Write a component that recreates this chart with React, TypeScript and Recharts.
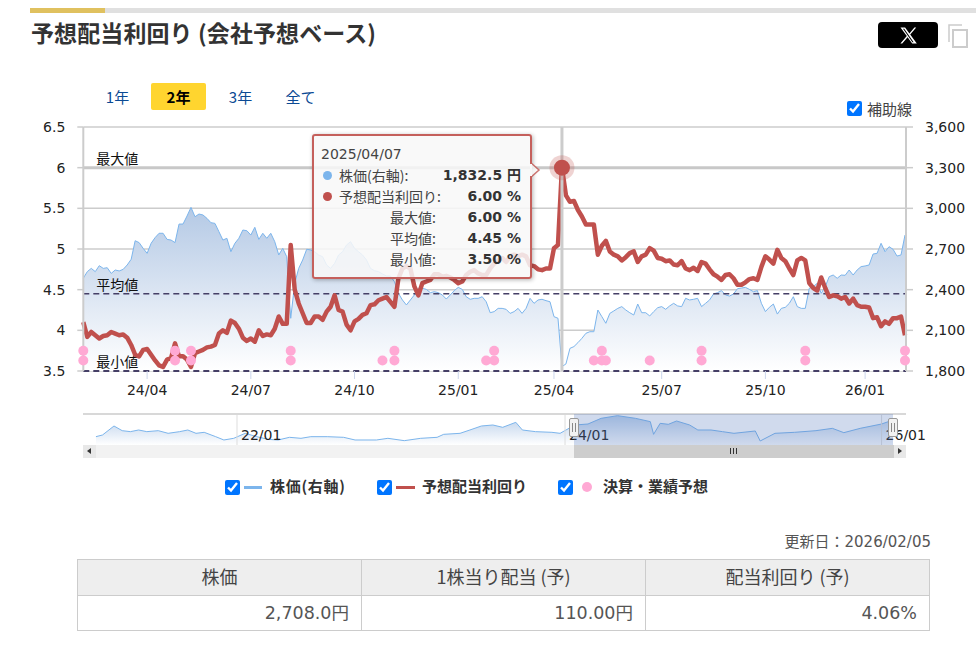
import {
  Area,
  CartesianGrid,
  ComposedChart,
  Line,
  ReferenceLine,
  Tooltip,
  XAxis,
  YAxis,
} from "recharts";

const dates = [
  "2024/02/05","2024/02/08","2024/02/12","2024/02/15","2024/02/19","2024/02/22","2024/02/26","2024/02/29","2024/03/04","2024/03/07",
  "2024/03/11","2024/03/14","2024/03/18","2024/03/21","2024/03/25","2024/03/28","2024/04/01","2024/04/04","2024/04/08","2024/04/11",
  "2024/04/15","2024/04/18","2024/04/22","2024/04/25","2024/04/29","2024/05/02","2024/05/06","2024/05/09","2024/05/13","2024/05/16",
  "2024/05/20","2024/05/23","2024/05/27","2024/05/30","2024/06/03","2024/06/06","2024/06/10","2024/06/13","2024/06/17","2024/06/20",
  "2024/06/24","2024/06/27","2024/07/01","2024/07/04","2024/07/08","2024/07/11","2024/07/15","2024/07/18","2024/07/22","2024/07/25",
  "2024/07/29","2024/08/01","2024/08/05","2024/08/08","2024/08/12","2024/08/15","2024/08/19","2024/08/22","2024/08/26","2024/08/29",
  "2024/09/02","2024/09/05","2024/09/09","2024/09/12","2024/09/16","2024/09/19","2024/09/23","2024/09/26","2024/10/01","2024/10/03",
  "2024/10/07","2024/10/10","2024/10/14","2024/10/17","2024/10/21","2024/10/24","2024/10/28","2024/10/31","2024/11/04","2024/11/07",
  "2024/11/11","2024/11/14","2024/11/18","2024/11/21","2024/11/25","2024/11/28","2024/12/02","2024/12/05","2024/12/09","2024/12/12",
  "2024/12/16","2024/12/19","2024/12/23","2024/12/26","2025/01/06","2025/01/09","2025/01/13","2025/01/16","2025/01/20","2025/01/23",
  "2025/01/27","2025/01/30","2025/02/03","2025/02/06","2025/02/10","2025/02/13","2025/02/17","2025/02/20","2025/02/24","2025/02/27",
  "2025/03/03","2025/03/06","2025/03/10","2025/03/13","2025/03/17","2025/03/20","2025/03/24","2025/03/27","2025/04/01","2025/04/03",
  "2025/04/07","2025/04/10","2025/04/14","2025/04/17","2025/04/21","2025/04/24","2025/04/28","2025/05/01","2025/05/05","2025/05/08",
  "2025/05/12","2025/05/15","2025/05/19","2025/05/22","2025/05/26","2025/05/29","2025/06/02","2025/06/05","2025/06/09","2025/06/12",
  "2025/06/16","2025/06/19","2025/06/23","2025/06/26","2025/06/30","2025/07/01","2025/07/03","2025/07/07","2025/07/10","2025/07/14",
  "2025/07/17","2025/07/21","2025/07/24","2025/07/28","2025/07/31","2025/08/04","2025/08/07","2025/08/11","2025/08/14","2025/08/18",
  "2025/08/21","2025/08/25","2025/08/28","2025/09/01","2025/09/04","2025/09/08","2025/09/11","2025/09/15","2025/09/18","2025/09/22",
  "2025/09/25","2025/10/01","2025/10/02","2025/10/06","2025/10/09","2025/10/13","2025/10/16","2025/10/20","2025/10/23","2025/10/27",
  "2025/10/30","2025/11/03","2025/11/06","2025/11/10","2025/11/13","2025/11/17","2025/11/20","2025/11/24","2025/11/27","2025/12/01",
  "2025/12/04","2025/12/08","2025/12/11","2025/12/15","2025/12/18","2025/12/22","2026/01/05","2026/01/08","2026/01/12","2026/01/15",
  "2026/01/19","2026/01/22","2026/01/26","2026/01/29","2026/02/02","2026/02/04","2026/02/05",
];

const priceValues = [
  2484,2533,2557,2533,2577,2557,2562,2520,2545,2538,
  2550,2582,2624,2761,2747,2705,2668,2742,2784,2816,
  2816,2771,2766,2747,2884,2884,2943,3007,2938,2958,
  2951,2926,2894,2889,2828,2766,2779,2680,2742,2779,
  2840,2835,2803,2860,2771,2816,2779,2816,2754,2656,
  2705,2643,2189,2447,2557,2619,2698,2693,2680,2656,
  2643,2582,2557,2594,2656,2680,2730,2754,2705,2680,
  2656,2619,2557,2540,2533,2516,2501,2501,2459,2373,
  2324,2287,2324,2361,2410,2410,2402,2378,2385,2378,
  2361,2331,2361,2393,2417,2402,2348,2329,2336,2336,
  2348,2311,2230,2238,2262,2262,2255,2225,2238,2262,
  2225,2262,2336,2299,2324,2329,2319,2311,2201,2189,
  1832.5,1852,1967,1980,2009,2041,2078,2090,2090,2250,
  2201,2152,2225,2243,2262,2275,2250,2230,2213,2294,
  2230,2230,2206,2238,2267,2275,2255,2280,2299,2280,
  2275,2336,2324,2329,2336,2275,2299,2324,2368,2378,
  2393,2361,2353,2368,2407,2412,2417,2402,2385,2393,
  2299,2238,2270,2294,2220,2262,2270,2299,2348,2275,
  2262,2262,2410,2422,2447,2373,2422,2496,2508,2484,
  2508,2506,2545,2508,2545,2570,2575,2582,2663,2668,
  2742,2680,2717,2698,2648,2656,2803,
];

const yieldValues = [
  4.10,3.92,3.98,3.94,3.90,3.93,3.94,3.98,3.96,3.94,
  3.95,3.91,3.82,3.70,3.68,3.76,3.77,3.70,3.63,3.57,
  3.55,3.64,3.66,3.84,3.68,3.68,3.64,3.55,3.72,3.74,
  3.76,3.79,3.80,3.82,3.96,4.00,3.97,4.12,4.09,4.02,
  3.91,3.87,3.90,3.86,4.00,3.93,3.95,3.94,4.02,4.17,
  4.08,4.08,5.05,4.50,4.33,4.21,4.09,4.09,4.17,4.17,
  4.13,4.23,4.29,4.43,4.25,4.23,4.07,4.00,4.11,4.14,
  4.19,4.21,4.31,4.32,4.37,4.39,4.41,4.35,4.29,4.64,
  4.76,4.79,4.76,4.54,4.43,4.58,4.60,4.62,4.69,4.69,
  4.66,4.67,4.65,4.62,4.58,4.60,4.68,4.72,4.74,4.70,
  4.68,4.68,4.76,4.82,4.86,4.89,4.84,4.91,4.93,4.91,
  4.93,4.91,4.80,4.79,4.75,4.74,4.76,4.76,5.01,5.05,
  6.00,5.66,5.58,5.59,5.48,5.40,5.30,5.30,5.30,4.93,
  5.04,5.10,4.97,4.93,4.91,4.86,4.90,4.95,4.97,4.84,
  4.91,4.93,5.01,4.98,4.89,4.88,4.85,4.86,4.81,4.80,
  4.85,4.76,4.74,4.77,4.73,4.84,4.82,4.75,4.69,4.66,
  4.62,4.68,4.69,4.64,4.56,4.56,4.59,4.63,4.64,4.62,
  4.78,4.91,4.87,4.82,4.99,4.89,4.85,4.76,4.68,4.86,
  4.89,4.86,4.58,4.52,4.49,4.65,4.52,4.41,4.43,4.42,
  4.39,4.41,4.33,4.39,4.31,4.29,4.29,4.28,4.15,4.16,
  4.05,4.11,4.08,4.15,4.15,4.17,3.94,
];

// 決算・業績予想 markers, two rows
const upperEventDates = [
  "2024/02/05","2024/04/25","2024/05/09","2024/08/05","2024/11/04","2025/02/06",
  "2025/05/12","2025/08/04","2025/11/03","2026/02/05",
];
const lowerEventDates = [
  ...upperEventDates,
  "2024/10/24","2025/01/30","2025/05/05","2025/05/15","2025/06/23",
];
const UPPER_EVENT = 3.75;
const LOWER_EVENT = 3.63;

const xTickDates = [
  "2024/04/01","2024/07/01","2024/10/01","2025/01/06","2025/04/01","2025/07/01","2025/10/01","2026/01/05",
];
const yieldTicks = [3.5, 4, 4.5, 5, 5.5, 6, 6.5];
const priceTicks = [1800, 2100, 2400, 2700, 3000, 3300, 3600];

const MAX_YIELD = 6;
const AVG_YIELD = 4.45;
const MIN_YIELD = 3.5;
const ACTIVE_INDEX = 120;

// overview strip under the chart: whole history
const overviewYears = [
  2021.14,2021.18,2021.25,2021.30,2021.35,2021.40,2021.45,2021.52,2021.58,2021.65,
  2021.70,2021.75,2021.80,2021.87,2021.92,2021.98,2022.05,2022.12,2022.19,2022.25,
  2022.32,2022.39,2022.45,2022.55,2022.65,2022.72,2022.85,2022.92,2023.02,2023.12,
  2023.22,2023.26,2023.36,2023.42,2023.49,2023.56,2023.62,2023.70,2023.74,2023.82,
  2023.92,2023.97,2024.06,2024.14,2024.22,2024.32,2024.43,2024.52,2024.54,2024.58,
  2024.63,2024.68,2024.76,2024.81,2024.89,2024.96,2025.03,2025.16,2025.19,2025.28,
  2025.40,2025.53,2025.63,2025.70,2025.80,2025.93,2026.00,
];
const overviewPrices = [
  2033,2110,2528,2311,2265,2342,2265,2311,2188,2265,
  2342,2188,2234,2033,1878,1956,2188,2033,1909,1878,
  2002,1956,2033,2033,2002,1878,1878,1956,1847,1956,
  2002,2141,2188,2342,2528,2574,2466,2698,2342,2265,
  2234,2188,2574,2620,2883,3007,2883,2729,2141,2651,
  2605,2760,2574,2342,2342,2265,2188,2296,1832,2188,
  2234,2311,2419,2218,2419,2620,2806,
];
const overviewTicks = [2022, 2024, 2025.93];
const overviewTickLabels = ["22/01", "24/01", "26/01"];

const summaryHeads = ["株価", "1株当り配当 (予)", "配当利回り (予)"];
const summaryCells = ["2,708.0円", "110.00円", "4.06%"];

const rangeButtons = ["1年", "2年", "3年", "全て"];

const chartRows = dates.map((date, i) => ({
  date,
  price: priceValues[i],
  yieldPct: yieldValues[i],
  upperEvent: upperEventDates.includes(date) ? UPPER_EVENT : null,
  lowerEvent: lowerEventDates.includes(date) ? LOWER_EVENT : null,
}));
const overviewRows = overviewYears.map((year, i) => ({ year, price: overviewPrices[i] }));

const BLUE = "#7cb5ec";
const RED = "#c0504d";
const PINK = "#ffa9d4";
const SANS = '"DejaVu Sans", "Noto Sans CJK JP", sans-serif';
const CJK = '"Noto Sans CJK JP", sans-serif';

const lineLabel = (text: string) => (props: any) => (
  <text x={props.viewBox.x + 13} y={props.viewBox.y - 4} fontSize={14} fontFamily={CJK} fill="#111">
    {text}
  </text>
);

const eventDot = (props: any) => {
  if (props.value == null) return <g key={props.index} />;
  return <circle key={props.index} cx={props.cx} cy={props.cy} r={5} fill={PINK} />;
};

const activeYieldDot = (props: any) => (
  <g>
    <circle cx={props.cx} cy={props.cy} r={12.5} fill={RED} opacity={0.25} />
    <circle cx={props.cx} cy={props.cy} r={8} fill={RED} />
  </g>
);

const TipRow = ({ y, label, value, dot }: { y: number; label: string; value: string; dot?: string }) => (
  <>
    {dot && (
      <span
        style={{ position: "absolute", left: 9, top: y - 4, width: 9, height: 9, borderRadius: "50%", background: dot }}
      />
    )}
    <span
      style={{
        position: "absolute",
        top: y - 11,
        fontFamily: CJK,
        fontSize: 14,
        lineHeight: "22px",
        color: "#444",
        whiteSpace: "nowrap",
        ...(dot ? { left: 25 } : { right: 94 }),
      }}
    >
      {label}
    </span>
    <span
      style={{
        position: "absolute",
        right: 9,
        top: y - 11,
        fontFamily: SANS,
        fontWeight: 700,
        fontSize: 14,
        lineHeight: "22px",
        color: "#333",
        whiteSpace: "nowrap",
      }}
    >
      {value}
    </span>
  </>
);

const ChartTip = ({ label, payload }: any) => {
  if (!payload || payload.length === 0) return null;
  const price = payload.find((p: any) => p.dataKey === "price")?.value ?? 0;
  const pct = payload.find((p: any) => p.dataKey === "yieldPct")?.value ?? 0;
  const priceText = price.toLocaleString("en-US", { minimumFractionDigits: 1 });
  return (
    <div
      style={{
        position: "relative",
        width: 220,
        height: 145,
        boxSizing: "border-box",
        background: "rgba(248,248,248,0.86)",
        border: "2px solid #c5605c",
        borderRadius: 3,
        boxShadow: "1px 1px 4px rgba(0,0,0,0.3)",
      }}
    >
      <span
        style={{ position: "absolute", left: 7, top: 7, fontFamily: SANS, fontSize: 14, lineHeight: "22px", color: "#444" }}
      >
        {label}
      </span>
      <TipRow y={39} label="株価(右軸):" value={`${priceText} 円`} dot={BLUE} />
      <TipRow y={60} label="予想配当利回り:" value={`${pct.toFixed(2)} %`} dot={RED} />
      <TipRow y={81} label="最大値:" value={`${MAX_YIELD.toFixed(2)} %`} />
      <TipRow y={102} label="平均値:" value={`${AVG_YIELD.toFixed(2)} %`} />
      <TipRow y={123} label="最小値:" value={`${MIN_YIELD.toFixed(2)} %`} />
      <svg style={{ position: "absolute", left: 216, top: 25 }} width={12} height={18}>
        <path d="M0 1 L9 9 L0 17 Z" fill="#f8f8f8" stroke="#c5605c" strokeWidth={1.5} opacity={0.85} />
        <rect x={0} y={3} width={2} height={12} fill="#f8f8f8" />
      </svg>
    </div>
  );
};

const OverviewTick = ({ x, payload, index }: any) => (
  <g>
    <line x1={x} x2={x} y1={0} y2={31} stroke="#ddd" />
    <text x={x + 4} y={26} fontSize={14} fontFamily={SANS} fill="#222">
      {overviewTickLabels[index ?? overviewTicks.indexOf(payload.value)]}
    </text>
  </g>
);

const Box = ({ style, children }: { style: React.CSSProperties; children?: React.ReactNode }) => (
  <div style={{ position: "absolute", ...style }}>{children}</div>
);

const Check = ({ x, y }: { x: number; y: number }) => (
  <input
    type="checkbox"
    defaultChecked
    style={{ position: "absolute", left: x, top: y, width: 15, height: 15, margin: 0 }}
  />
);

const LegendText = ({ x, spacing, children }: { x: number; spacing?: number; children: React.ReactNode }) => (
  <Box
    style={{
      left: x,
      top: 475,
      fontFamily: CJK,
      fontWeight: 700,
      fontSize: 15,
      letterSpacing: spacing ?? 0,
      lineHeight: "22px",
      color: "#333",
      whiteSpace: "nowrap",
    }}
  >
    {children}
  </Box>
);

const cellBase: React.CSSProperties = {
  border: "1px solid #ccc",
  color: "#555",
  padding: 0,
};

export default function App() {
  return (
    <div style={{ position: "absolute", left: 0, top: 0, width: 976, height: 664, overflow: "hidden", background: "#fff" }}>
      {/* header */}
      <Box style={{ left: 30, top: 8, width: 946, height: 5, background: "#e0e0e0" }} />
      <Box style={{ left: 30, top: 8, width: 75, height: 5, background: "#e0c15f" }} />
      <Box
        style={{
          left: 31,
          top: 15,
          fontFamily: CJK,
          fontWeight: 700,
          fontSize: 23,
          letterSpacing: 0.1,
          lineHeight: "34px",
          color: "#333",
          whiteSpace: "nowrap",
        }}
      >
        予想配当利回り (会社予想ベース)
      </Box>
      <Box style={{ left: 878, top: 22, width: 60, height: 26, background: "#000", borderRadius: 4 }}>
        <svg width={60} height={26} viewBox="0 0 60 26">
          <path
            d="M22.5 5.5h4.6l4.3 5.9 5-5.9h1.8l-6 7 6.6 9h-4.6l-4.6-6.3-5.4 6.3h-1.8l6.4-7.4z M25 6.8l9.4 13.4h1.2L26.2 6.8z"
            fill="#fff"
          />
        </svg>
      </Box>
      <Box style={{ left: 948, top: 24, width: 20, height: 24 }}>
        <svg width={20} height={24}>
          <path d="M1 18V1h13" fill="none" stroke="#ccc" strokeWidth={1.5} />
          <rect x={5} y={6} width={14} height={17} fill="none" stroke="#ccc" strokeWidth={2} />
        </svg>
      </Box>

      {/* range buttons */}
      <Box style={{ left: 151, top: 83, width: 55, height: 27, background: "#ffd52f", borderRadius: 2 }} />
      {rangeButtons.map((text, i) => (
        <Box
          key={text}
          style={{
            left: [90, 151, 213, 273][i],
            width: 55,
            top: 83,
            textAlign: "center",
            fontFamily: CJK,
            fontSize: 15,
            lineHeight: "27px",
            fontWeight: i === 1 ? 700 : 400,
            color: i === 1 ? "#000" : "#0b4a94",
          }}
        >
          {text}
        </Box>
      ))}

      <Check x={847} y={101} />
      <Box style={{ left: 867, top: 98, fontFamily: CJK, fontSize: 15, lineHeight: "22px", color: "#444" }}>補助線</Box>

      {/* main chart */}
      <Box style={{ left: 0, top: 0 }}>
        <ComposedChart
          width={976}
          height={410}
          data={chartRows}
          margin={{ top: 127, right: 10, bottom: 0, left: 10 }}
        >
          <defs>
            <linearGradient id="priceFill" x1="0" y1="0" x2="0" y2="1">
              <stop offset="0%" stopColor="#b4c9e5" />
              <stop offset="100%" stopColor="#ffffff" />
            </linearGradient>
          </defs>
          <CartesianGrid yAxisId="left" vertical={false} stroke="#ccc" strokeWidth={1.5} />
          <XAxis
            dataKey="date"
            scale="point"
            ticks={xTickDates}
            interval={0}
            height={39}
            padding={{ left: 0, right: 1 }}
            tickFormatter={(d: string) => d.slice(2, 7)}
            axisLine={false}
            tickSize={8}
            tickMargin={6}
            tickLine={{ stroke: "#ccd6eb" }}
            tick={{ fontSize: 14, fontFamily: SANS, fill: "#222" }}
          />
          <YAxis
            yAxisId="left"
            width={73.3}
            domain={[3.5, 6.5]}
            ticks={yieldTicks}
            interval={0}
            axisLine={{ stroke: "#ccc", strokeWidth: 2 }}
            tickLine={{ stroke: "#ccc", strokeWidth: 1.5 }}
            tickSize={6}
            tickMargin={12}
            tick={{ fontSize: 14, fontFamily: SANS, fill: "#222" }}
          />
          <YAxis
            yAxisId="right"
            orientation="right"
            width={60}
            domain={[1800, 3600]}
            ticks={priceTicks}
            interval={0}
            tickFormatter={(v: number) => v.toLocaleString("en-US")}
            axisLine={{ stroke: "#ccc", strokeWidth: 2 }}
            tickLine={{ stroke: "#ccc", strokeWidth: 1.5 }}
            tickSize={7}
            tickMargin={12}
            tick={{ fontSize: 14, fontFamily: SANS, fill: "#222" }}
          />
          <Area
            yAxisId="right"
            type="linear"
            dataKey="price"
            stroke={BLUE}
            strokeWidth={1}
            fill="url(#priceFill)"
            fillOpacity={1}
            dot={false}
            activeDot={false}
            isAnimationActive={false}
          />
          <ReferenceLine yAxisId="left" y={MAX_YIELD} stroke="#c8c8c8" strokeWidth={3} label={lineLabel("最大値")} />
          <ReferenceLine
            yAxisId="left"
            y={AVG_YIELD}
            stroke="#453f66"
            strokeWidth={1.5}
            strokeDasharray="6 4"
            label={lineLabel("平均値")}
          />
          <ReferenceLine
            yAxisId="left"
            y={MIN_YIELD}
            stroke="#453f66"
            strokeWidth={2}
            strokeDasharray="6 4"
            label={lineLabel("最小値")}
          />
          <Line
            yAxisId="left"
            type="linear"
            dataKey="yieldPct"
            stroke={RED}
            strokeWidth={4.5}
            strokeLinejoin="round"
            dot={false}
            activeDot={activeYieldDot}
            isAnimationActive={false}
          />
          <Line
            yAxisId="left"
            dataKey="upperEvent"
            stroke="none"
            dot={eventDot}
            activeDot={false}
            legendType="none"
            isAnimationActive={false}
          />
          <Line
            yAxisId="left"
            dataKey="lowerEvent"
            stroke="none"
            dot={eventDot}
            activeDot={false}
            legendType="none"
            isAnimationActive={false}
          />
          <Tooltip
            defaultIndex={ACTIVE_INDEX}
            position={{ x: 312, y: 134 }}
            content={<ChartTip />}
            cursor={{ stroke: "#ccc", strokeWidth: 3 }}
            isAnimationActive={false}
            wrapperStyle={{ zIndex: 5, outline: "none" }}
          />
        </ComposedChart>
      </Box>

      {/* overview strip, wider than its plot so the last label is not cut */}
      <Box style={{ left: 83, top: 414 }}>
        <ComposedChart width={860} height={32} data={overviewRows} margin={{ top: 0, right: 37, bottom: 0, left: 0 }}>
          <defs>
            <linearGradient id="overviewFill" x1="0" y1="0" x2="0" y2="1">
              <stop offset="0%" stopColor="#b9cfea" />
              <stop offset="100%" stopColor="#ffffff" />
            </linearGradient>
          </defs>
          <XAxis
            dataKey="year"
            type="number"
            domain={[2021.061, 2026.079]}
            ticks={overviewTicks}
            interval={0}
            height={1}
            axisLine={false}
            tickLine={false}
            tick={<OverviewTick />}
          />
          <YAxis hide domain={[1646, 3084]} />
          <Area
            type="linear"
            dataKey="price"
            stroke={BLUE}
            strokeWidth={1}
            fill="url(#overviewFill)"
            fillOpacity={1}
            dot={false}
            isAnimationActive={false}
          />
        </ComposedChart>
      </Box>
      <Box style={{ left: 83, top: 413, width: 823, height: 2, background: "#d8d8d8" }} />
      <Box style={{ left: 574, top: 414, width: 319, height: 31, background: "rgba(80,120,190,0.27)" }} />

      {/* scrollbar */}
      <Box style={{ left: 83, top: 445, width: 823, height: 13, background: "#f2f2f2" }} />
      <Box style={{ left: 574, top: 445, width: 320, height: 13, background: "#cdcdcd" }} />
      <Box style={{ left: 83, top: 445, width: 13, height: 13, background: "#e8e8e8" }} />
      <Box style={{ left: 894, top: 445, width: 12, height: 13, background: "#e8e8e8" }} />
      <Box
        style={{
          left: 87,
          top: 448,
          width: 0,
          height: 0,
          borderTop: "3.5px solid transparent",
          borderBottom: "3.5px solid transparent",
          borderRight: "4px solid #333",
        }}
      />
      <Box
        style={{
          left: 898,
          top: 448,
          width: 0,
          height: 0,
          borderTop: "3.5px solid transparent",
          borderBottom: "3.5px solid transparent",
          borderLeft: "4px solid #333",
        }}
      />
      {[730, 733, 736].map((x) => (
        <Box key={x} style={{ left: x, top: 448, width: 1, height: 6, background: "#333" }} />
      ))}
      {[574, 893].map((x) => (
        <Box
          key={x}
          style={{
            left: x - 5,
            top: 418,
            width: 10,
            height: 19,
            boxSizing: "border-box",
            background: "#f2f2f2",
            border: "1px solid #999",
            borderRadius: 2,
          }}
        >
          <Box style={{ left: 2, top: 4, width: 1, height: 9, background: "#888" }} />
          <Box style={{ left: 5, top: 4, width: 1, height: 9, background: "#888" }} />
        </Box>
      ))}

      {/* legend */}
      <Check x={225} y={480} />
      <Box style={{ left: 244, top: 485.5, width: 18, height: 3, background: BLUE }} />
      <LegendText x={270} spacing={0.7}>株価(右軸)</LegendText>
      <Check x={377} y={480} />
      <Box style={{ left: 396, top: 485.5, width: 19, height: 3, background: RED }} />
      <LegendText x={422}>予想配当利回り</LegendText>
      <Check x={558} y={480} />
      <Box style={{ left: 582, top: 482, width: 10, height: 10, borderRadius: "50%", background: PINK }} />
      <LegendText x={603}>決算・業績予想</LegendText>

      {/* summary table */}
      <Box style={{ right: 45, top: 531, fontFamily: SANS, fontSize: 15, lineHeight: "22px", color: "#555", whiteSpace: "nowrap" }}>
        更新日：2026/02/05
      </Box>
      <Box style={{ left: 77, top: 559 }}>
        <table style={{ borderCollapse: "collapse", tableLayout: "fixed", width: 853 }}>
          <tbody>
            <tr style={{ height: 36 }}>
              {summaryHeads.map((text) => (
                <th
                  key={text}
                  style={{
                    ...cellBase,
                    background: "#eee",
                    color: "#444",
                    fontFamily: CJK,
                    fontSize: 18,
                    lineHeight: "30px",
                    fontWeight: 400,
                    textAlign: "center",
                    paddingBottom: 4,
                  }}
                >
                  {text}
                </th>
              ))}
            </tr>
            <tr style={{ height: 35 }}>
              {summaryCells.map((text) => (
                <td
                  key={text}
                  style={{
                    ...cellBase,
                    fontFamily: SANS,
                    fontSize: 17.5,
                    lineHeight: "30px",
                    textAlign: "right",
                    paddingRight: 12,
                    paddingBottom: 1,
                  }}
                >
                  {text}
                </td>
              ))}
            </tr>
          </tbody>
        </table>
      </Box>
    </div>
  );
}
